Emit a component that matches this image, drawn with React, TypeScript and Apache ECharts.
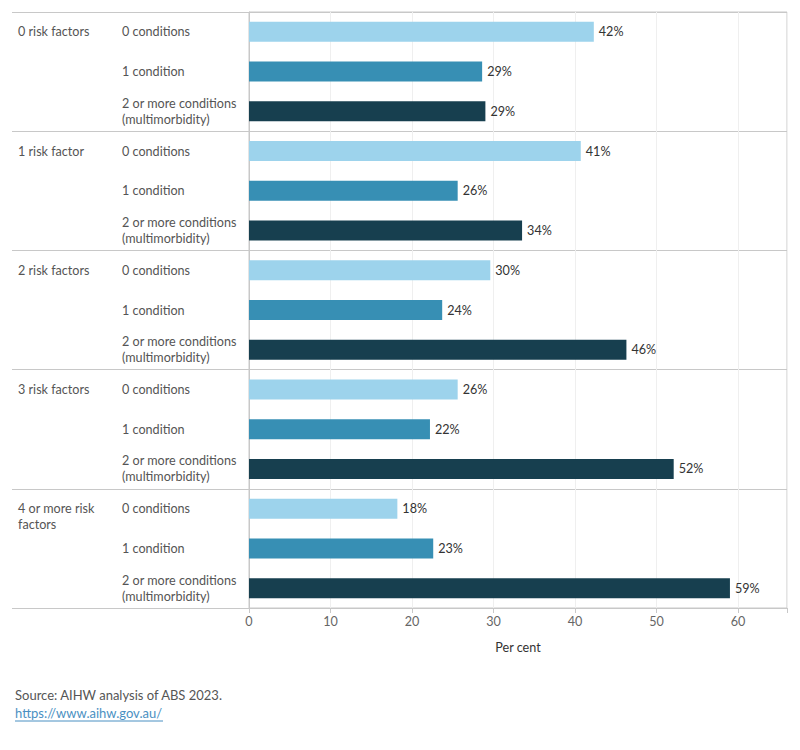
import React, { useEffect, useRef } from "react";
import * as echarts from "echarts";

const riskGroups = ["0 risk factors", "1 risk factor", "2 risk factors", "3 risk factors", "4 or more risk\nfactors"];
const conditions = ["0 conditions", "1 condition", "2 or more conditions\n(multimorbidity)"];
const zeroConditions = [42.3, 40.7, 29.6, 25.6, 18.2];
const oneCondition = [28.6, 25.6, 23.7, 22.2, 22.6];
const multimorbidity = [29.0, 33.5, 46.3, 52.1, 59.0];
const xTicks = [0, 10, 20, 30, 40, 50, 60];
const conditionColors = ["#9dd3ec", "#378fb4", "#173f4f"];

const FONT = "Lato";
const FS = 12.6;

export default function App() {
  const ref = useRef<HTMLDivElement>(null);
  useEffect(() => {
    document.body.style.margin = "0";
    const chart = echarts.init(ref.current!, null, { renderer: "svg" });
    const seriesValues = [zeroConditions, oneCondition, multimorbidity];
    const rows: { g: number; c: number }[] = [];
    riskGroups.forEach((_, g) => conditions.forEach((__, c) => rows.push({ g, c })));
    const cats = rows.map((r, i) => String(i));
    const barData = rows.map((r) => ({
      value: seriesValues[r.c][r.g],
      itemStyle: { color: conditionColors[r.c] },
    }));
    const splitLine = {
      show: true,
      interval: (i: number) => i % 3 === 0,
      lineStyle: { color: "#c8c8c8", width: 1 },
    };
    chart.setOption({
      animation: false,
      textStyle: { fontFamily: FONT },
      grid: [
        { left: 12, top: 12, width: 237, height: 596 },
        { left: 249, top: 12, right: 13, height: 596, show: true, borderColor: "#c8c8c8", borderWidth: 1 },
      ],
      xAxis: [
        { gridIndex: 0, type: "value", show: false, min: 0, max: 1 },
        {
          gridIndex: 1,
          type: "value",
          min: 0,
          max: 66,
          interval: 10,
          name: "Per cent",
          nameLocation: "middle",
          nameGap: 33,
          nameTextStyle: { color: "#333", fontSize: FS, fontFamily: FONT },
          axisLine: { show: false },
          axisTick: { show: true, length: 5, lineStyle: { color: "#c8c8c8" } },
          axisLabel: {
            color: "#666",
            fontSize: FS,
            margin: 7,
            fontFamily: FONT,
            formatter: (v: number) => (xTicks.includes(v) ? String(v) : ""),
          },
          splitLine: { show: true, lineStyle: { color: "#efefef" } },
        },
      ],
      yAxis: [
        {
          gridIndex: 0,
          type: "category",
          data: cats,
          inverse: true,
          axisLine: { show: false },
          axisTick: { show: false },
          splitLine,
          axisLabel: {
            inside: true,
            margin: 6,
            interval: 0,
            color: "#555",
            fontSize: FS,
            lineHeight: 16,
            fontFamily: FONT,
            formatter: (v: string) => {
              const r = rows[Number(v)];
              if (r.c !== 0) return "";
              const t = riskGroups[r.g];
              return t.includes("\n") ? " \n" + t : t;
            },
          },
        },
        {
          gridIndex: 1,
          type: "category",
          data: cats,
          inverse: true,
          axisLine: { show: true, lineStyle: { color: "#c8c8c8" } },
          axisTick: { show: false },
          splitLine,
          axisLabel: {
            align: "left",
            margin: 127,
            interval: 0,
            color: "#555",
            fontSize: FS,
            lineHeight: 16,
            fontFamily: FONT,
            formatter: (v: string) => conditions[rows[Number(v)].c],
          },
        },
      ],
      series: [
        {
          type: "bar",
          xAxisIndex: 1,
          yAxisIndex: 1,
          data: barData,
          barWidth: 20,
          label: {
            show: true,
            position: "right",
            distance: 5,
            color: "#333",
            fontSize: FS,
            fontFamily: FONT,
            formatter: (p: any) => Math.round(p.value) + "%",
          },
        },
      ],
      graphic: [
        {
          type: "text",
          left: 15,
          top: 688,
          style: { text: "Source: AIHW analysis of ABS 2023.", fill: "#555", fontSize: 13, fontFamily: FONT },
        },
        {
          type: "text",
          left: 15,
          top: 706,
          style: { text: "https://www.aihw.gov.au/", fill: "#4a90c2", fontSize: 13, fontFamily: FONT },
        },
        {
          type: "line",
          shape: { x1: 15, y1: 721, x2: 163, y2: 721 },
          style: { stroke: "#4a90c2", lineWidth: 1 },
        },
      ],
    });
    return () => chart.dispose();
  }, []);
  return <div ref={ref} style={{ width: 800, height: 750 }} />;
}
